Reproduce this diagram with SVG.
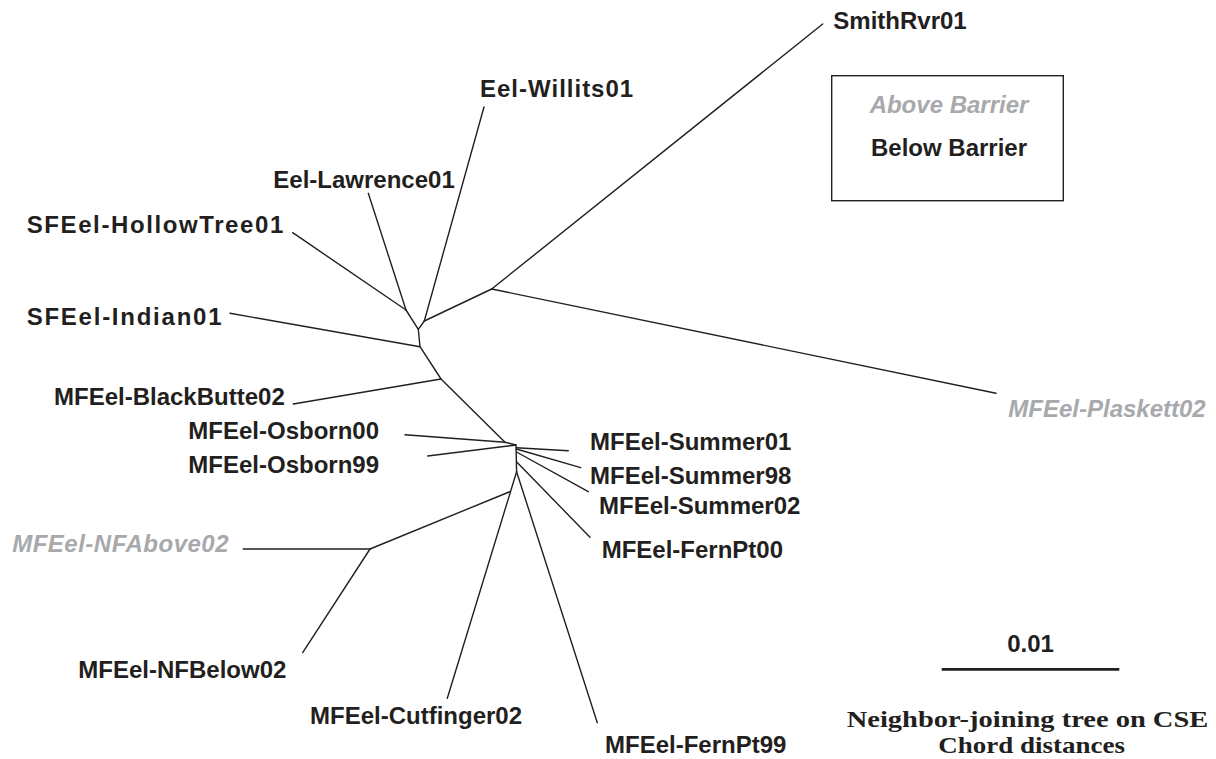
<svg xmlns="http://www.w3.org/2000/svg" width="1216" height="759" viewBox="0 0 1216 759">
<style>
  .bg { fill: #ffffff; }
  .edge { stroke: #231f20; stroke-width: 1.4; fill: none; stroke-linecap: round; stroke-linejoin: round; }
  .lbl { font-family: "Liberation Sans", Arial, sans-serif; font-weight: bold; font-size: 24px; fill: #231f20; }
  .above { font-style: italic; fill: #a7a9ac; }
  .cap { font-family: "Liberation Serif", "Times New Roman", serif; font-weight: bold; font-size: 24px; fill: #231f20; }
  .box { fill: none; stroke: #231f20; stroke-width: 1.4; }
  .scale { stroke: #231f20; stroke-width: 2.8; }
</style>
<rect class="bg" x="0" y="0" width="1216" height="759"/>

<g id="connectors">
  <polyline class="edge" points="491.7,289 822.7,24"/>
  <polyline class="edge" points="491.7,289 996,393.3"/>
  <polyline class="edge" points="424.3,321 491.7,289"/>
  <polyline class="edge" points="424.3,321 484,107"/>
  <polyline class="edge" points="406,310 292.7,232.7"/>
  <polyline class="edge" points="406,310 368.3,193.3"/>
  <polyline class="edge" points="406,310 418.3,329.3 424.3,321"/>
  <polyline class="edge" points="418.3,329.3 420,346.7 441,379 505,442.3 516,445 516.6,471.7"/>
  <polyline class="edge" points="420,346.7 230,313.3"/>
  <polyline class="edge" points="441,379 293.3,404"/>
  <polyline class="edge" points="405,434.7 505,442.3"/>
  <polyline class="edge" points="427.7,456 516,445"/>
  <polyline class="edge" points="516.3,447.8 568.3,450.7"/>
  <polyline class="edge" points="516.4,449 580.7,467.7"/>
  <polyline class="edge" points="516.5,452 588.3,491.7"/>
  <polyline class="edge" points="516.5,461.7 590,537.3"/>
  <polyline class="edge" points="516.6,471.7 447.3,698.3"/>
  <polyline class="edge" points="516.6,471.7 597.3,722.7"/>
  <polyline class="edge" points="510.3,491.5 370,549"/>
  <polyline class="edge" points="370,549 243.3,549"/>
  <polyline class="edge" points="370,549 302.7,652.7"/>
</g>

<g id="n-SmithRvr01"><text class="lbl" x="833.3" y="28.5">SmithRvr01</text></g>
<g id="n-EelWillits01"><text class="lbl" x="480" y="96.7" letter-spacing="1">Eel-Willits01</text></g>
<g id="n-EelLawrence01"><text class="lbl" x="273.3" y="187.7">Eel-Lawrence01</text></g>
<g id="n-SFEelHollowTree01"><text class="lbl" x="26.7" y="233.3" letter-spacing="1.6">SFEel-HollowTree01</text></g>
<g id="n-SFEelIndian01"><text class="lbl" x="26.7" y="325" letter-spacing="1.75">SFEel-Indian01</text></g>
<g id="n-MFEelBlackButte02"><text class="lbl" x="54" y="405">MFEel-BlackButte02</text></g>
<g id="n-MFEelOsborn00"><text class="lbl" x="188.3" y="439">MFEel-Osborn00</text></g>
<g id="n-MFEelOsborn99"><text class="lbl" x="188.3" y="473.3">MFEel-Osborn99</text></g>
<g id="n-MFEelPlaskett02"><text class="lbl above" x="1008.3" y="416.7">MFEel-Plaskett02</text></g>
<g id="n-MFEelSummer01"><text class="lbl" x="590" y="450">MFEel-Summer01</text></g>
<g id="n-MFEelSummer98"><text class="lbl" x="590" y="484">MFEel-Summer98</text></g>
<g id="n-MFEelSummer02"><text class="lbl" x="599" y="514">MFEel-Summer02</text></g>
<g id="n-MFEelFernPt00"><text class="lbl" x="601.7" y="558.3">MFEel-FernPt00</text></g>
<g id="n-MFEelNFAbove02"><text class="lbl above" x="12.2" y="552" letter-spacing="0.5">MFEel-NFAbove02</text></g>
<g id="n-MFEelNFBelow02"><text class="lbl" x="78.3" y="678.3">MFEel-NFBelow02</text></g>
<g id="n-MFEelCutfinger02"><text class="lbl" x="310" y="724">MFEel-Cutfinger02</text></g>
<g id="n-MFEelFernPt99"><text class="lbl" x="605" y="753.3">MFEel-FernPt99</text></g>

<g id="legend">
  <rect class="box" x="831.7" y="75.7" width="231.6" height="125"/>
  <text class="lbl above" x="949" y="113.3" text-anchor="middle">Above Barrier</text>
  <text class="lbl" x="949" y="156" text-anchor="middle">Below Barrier</text>
</g>

<g id="scalebar">
  <text class="lbl" x="1030.5" y="651.7" text-anchor="middle">0.01</text>
  <line class="scale" x1="941.7" y1="669.3" x2="1119.3" y2="669.3"/>
</g>

<g id="caption">
  <text class="cap" x="846.7" y="727" textLength="361.6" lengthAdjust="spacingAndGlyphs">Neighbor-joining tree on CSE</text>
  <text class="cap" x="938.3" y="753" textLength="186.7" lengthAdjust="spacingAndGlyphs">Chord distances</text>
</g>
</svg>
